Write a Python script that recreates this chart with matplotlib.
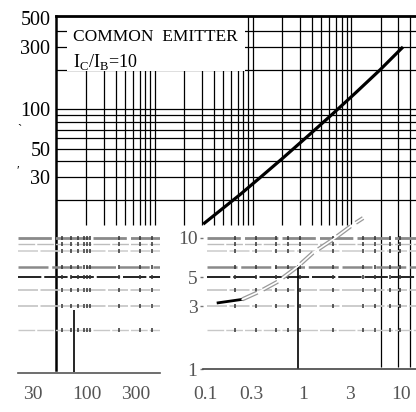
import matplotlib.pyplot as plt

plt.rcParams['font.family'] = ['Liberation Serif', 'DejaVu Serif']

# main curve (upper chart)
ic_main = [32, 74, 118, 202, 380, 655, 1100, 1980, 3300]
vce_main = [13.4, 22.2, 29.9, 42.3, 64.3, 92.8, 132.7, 201, 295]
y_ticks = [30, 50, 100, 300, 500]

# upper grid
x_grid = [2, 3, 4, 5, 6, 7, 8, 9, 10,
          20, 30, 40, 50, 60, 70, 80, 90, 100,
          200, 300, 400, 500, 600, 700, 800, 900, 1000]
x_grid_long = [2000, 3000, 4000]
y_grid = [20, 30, 40, 50, 60, 70, 80, 90, 100, 200, 300, 400]

# lower (broken) part
low_grid = [10, 9, 8, 6, 5, 4, 3, 2]
low_colors = ['#8a8a8a', '#bdbdbd', '#d0d0d0', '#8a8a8a', '#222222', '#c4c4c4', '#c4c4c4', '#c8c8c8']
low_widths = [2.0, 1.0, 1.2, 1.8, 1.4, 1.2, 1.2, 1.0]
ll_ticks = [30, 100, 300]
ll_marks = [57, 70, 82, 94, 100, 107, 205, 330, 430]
lr_xticks = [0.1, 0.3, 1, 3, 10]
lr_yticks = [1, 3, 5, 10]
lr_marks = [0.2, 0.33, 0.53, 0.7, 0.93, 2, 4.1, 5.4, 7.7, 9.8]
ic_low = [0.136, 0.24, 0.36, 0.54, 0.87, 1.26, 2.0, 3.2, 4.1]
v_low = [3.2, 3.4, 3.9, 4.6, 6.0, 7.7, 9.7, 12.6, 14.2]

W, H = 416, 412
def rect(x0, y0, x1, y1):
    return [x0 / W, 1 - y1 / H, (x1 - x0) / W, (y1 - y0) / H]

fig = plt.figure(figsize=(4.16, 4.12), dpi=100)

# --- upper chart
ax = fig.add_axes(rect(56, 16, 416, 370))
ax.set_xscale('log')
ax.set_yscale('log')
ax.set_xlim(0.98, 4600)
ax.set_ylim(1.0, 520)
ax.vlines(x_grid, 13, 520, color='k', lw=0.9, zorder=1)
ax.vlines(x_grid_long, 1.05, 520, color='k', lw=0.9, zorder=1)
ax.hlines(y_grid, 0.98, 4600, color='k', lw=0.9, zorder=1)
ax.add_patch(plt.Rectangle((0.031, 0.846), 0.494, 0.15, transform=ax.transAxes,
                           facecolor='white', edgecolor='none', zorder=2))
ax.text(0.047, 0.929, 'COMMON  EMITTER', transform=ax.transAxes, fontsize=12.5,
        va='baseline', zorder=3)
ax.text(0.047, 0.856, r'I$_\mathregular{C}$/I$_\mathregular{B}$=10', transform=ax.transAxes,
        fontsize=13, va='baseline', zorder=3)
ax.plot(ic_main, vce_main, color='k', lw=2.3, zorder=3)

ax.spines['top'].set_linewidth(2)
ax.spines['left'].set_linewidth(1.8)
ax.spines['right'].set_visible(False)
ax.spines['bottom'].set_visible(False)
ax.set_xticks([])
ax.set_xticks([], minor=True)
ax.set_yticks(y_ticks)
ax.set_yticklabels([str(v) for v in y_ticks])
ax.set_yticks([], minor=True)
ax.tick_params(axis='y', length=0, pad=4, labelsize=14.5)

fig.text(17 / W, 1 - 133 / H, '`', fontsize=9)
fig.text(16 / W, 1 - 174 / H, '\u2032', fontsize=9)

# --- lower left piece
ll = fig.add_axes(rect(18, 200, 160, 373))
ll.set_facecolor('none')
ll.set_xscale('log')
ll.set_yscale('log')
ll.set_xlim(21.4, 514)
ll.set_ylim(0.932, 19.5)
for v, c, w in zip(low_grid, low_colors, low_widths):
    ll.axhline(v, color=c, lw=w, ls=(0, (12, 1.5)))
    ll.plot(ll_marks, [v] * len(ll_marks), ls='none', marker='|', ms=3, mew=1.1, color='#333')
ll.vlines(75, 0.95, 2.82, color='k', lw=1.2)
for sp in ['top', 'right', 'left']:
    ll.spines[sp].set_visible(False)
ll.spines['bottom'].set_color('#555')
ll.spines['bottom'].set_linewidth(1.2)
ll.set_yticks([])
ll.set_yticks([], minor=True)
ll.set_xticks(ll_ticks)
ll.set_xticklabels([str(v) for v in ll_ticks])
ll.set_xticks([], minor=True)
ll.tick_params(axis='x', length=0, pad=9.5, labelsize=14, labelcolor='#555')

# --- lower right piece
lr = fig.add_axes(rect(203, 200, 416, 369))
lr.set_facecolor('none')
lr.set_xscale('log')
lr.set_yscale('log')
lr.set_xlim(0.0954, 14.2)
lr.set_ylim(1, 19.5)
for v, c, w in zip(low_grid, low_colors, low_widths):
    lr.axhline(v, xmin=0.02, color=c, lw=w, ls=(0, (12, 1.5)))
    lr.plot(lr_marks, [v] * len(lr_marks), ls='none', marker='|', ms=3, mew=1.1, color='#333')
lr.vlines(0.88, 1, 6.2, color='k', lw=1.2)
lr.plot(ic_low[:2], v_low[:2], color='k', lw=2.0)
lr.plot(ic_low[1:], v_low[1:], color='#999999', lw=3.0, ls=(0, (4, 1.5)))
lr.plot(ic_low[1:], v_low[1:], color='white', lw=1.2)
for sp in ['top', 'right', 'left']:
    lr.spines[sp].set_visible(False)
lr.spines['bottom'].set_color('#444')
lr.spines['bottom'].set_linewidth(1.2)
lr.set_xticks(lr_xticks)
lr.set_xticklabels([str(v) for v in lr_xticks])
lr.set_xticks([], minor=True)
lr.set_yticks(lr_yticks)
lr.set_yticklabels([str(v) for v in lr_yticks])
lr.set_yticks([], minor=True)
lr.tick_params(axis='x', length=0, pad=12, labelsize=14, labelcolor='#555')
lr.tick_params(axis='y', length=2.5, width=1, color='#777', pad=1.5, labelsize=14, labelcolor='#555')

fig.savefig('out.png', dpi=100)
